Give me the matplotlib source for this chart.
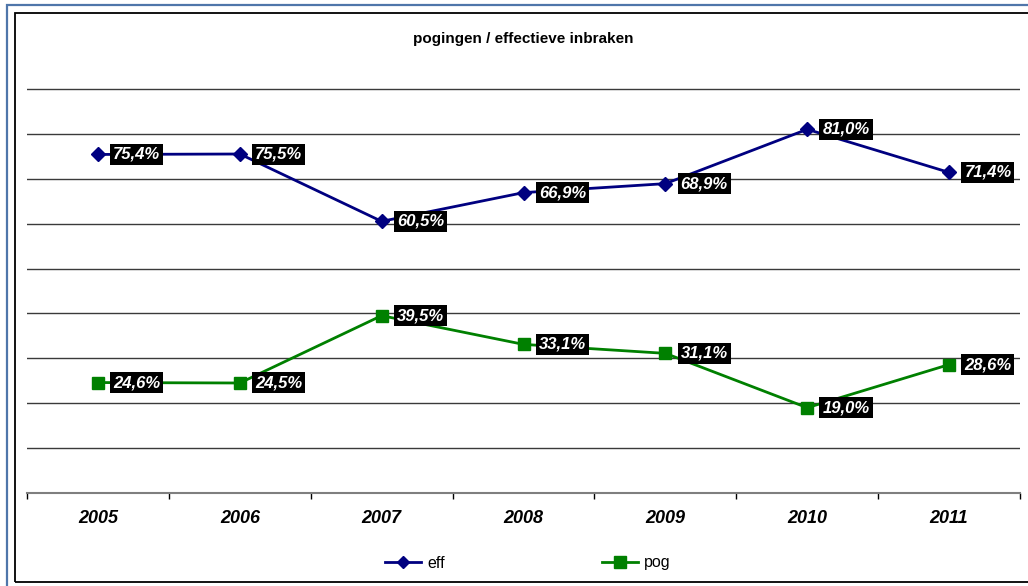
import matplotlib
matplotlib.use("Agg")
import matplotlib.pyplot as plt
from matplotlib.patches import Rectangle
from matplotlib.lines import Line2D

years = ["2005", "2006", "2007", "2008", "2009", "2010", "2011"]
eff = [75.4, 75.5, 60.5, 66.9, 68.9, 81.0, 71.4]
pog = [24.6, 24.5, 39.5, 33.1, 31.1, 19.0, 28.6]
title = "pogingen / effectieve inbraken"

W, H = 1028, 586
fig = plt.figure(figsize=(W / 100, H / 100), dpi=100)
plt.rcParams['font.family'] = ['Liberation Sans', 'DejaVu Sans']

# frame lines
fig.patches.append(Rectangle((7 / W, -0.1), 1.2, (H - 5) / H + 0.1, transform=fig.transFigure,
                             fill=False, edgecolor='#4f76aa', linewidth=1.6))
fig.patches.append(Rectangle((14.5 / W, 1 - 582 / H), 1.2, (582 - 12.5) / H, transform=fig.transFigure,
                             fill=False, edgecolor='black', linewidth=1.3))

ax = fig.add_axes([27 / W, 1 - 493 / H, (1020 - 27) / W, (493 - 44) / H])
x = list(range(len(years)))

ax.set_xlim(-0.5, len(years) - 0.5)
ax.set_ylim(0, 100)
for s in ['top', 'right', 'left']:
    ax.spines[s].set_visible(False)
ax.spines['bottom'].set_color('#7f7f7f')
ax.spines['bottom'].set_linewidth(1.5)
ax.set_yticks([])
for g in range(10, 100, 10):
    ax.axhline(g, color='#3a3a3a', linewidth=1.0, zorder=1)

ax.set_xticks(x)
ax.set_xticklabels(years, fontsize=13, fontweight='bold', fontstyle='italic')
ax.tick_params(axis='x', which='major', length=0, pad=12)
ax.set_xticks([i - 0.5 for i in range(len(years) + 1)], minor=True)
ax.tick_params(axis='x', which='minor', length=4, width=1, color='black', direction='out')

ax.plot(x, eff, color='#000080', linewidth=2, marker='D', markersize=7,
        markeredgecolor='#000080', zorder=3, clip_on=False)
ax.plot(x, pog, color='#008000', linewidth=2, marker='s', markersize=9,
        markeredgecolor='#008000', zorder=3, clip_on=False)

for series in (eff, pog):
    for xi, v in zip(x, series):
        ax.annotate(f"{v:.1f}%".replace('.', ','), (xi, v), xytext=(11, 0),
                    textcoords='offset points', ha='left', va='center',
                    color='white', fontsize=12, fontweight='bold', fontstyle='italic',
                    bbox=dict(boxstyle='square,pad=0.18', facecolor='black', edgecolor='none'),
                    zorder=4)

fig.text(523 / W, 1 - 39 / H, title, ha='center', va='center', fontsize=11, fontweight='bold')

handles = [Line2D([], [], color='#000080', linewidth=2, marker='D', markersize=6),
           Line2D([], [], color='#008000', linewidth=2, marker='s', markersize=8)]
fig.legend(handles, ['eff', 'pog'], loc='center', bbox_to_anchor=(528 / W, 1 - 563 / H),
           ncol=2, frameon=False, fontsize=11.5, handlelength=2.25, handletextpad=0.4,
           columnspacing=9.8)

fig.savefig('out.png', dpi=100)
